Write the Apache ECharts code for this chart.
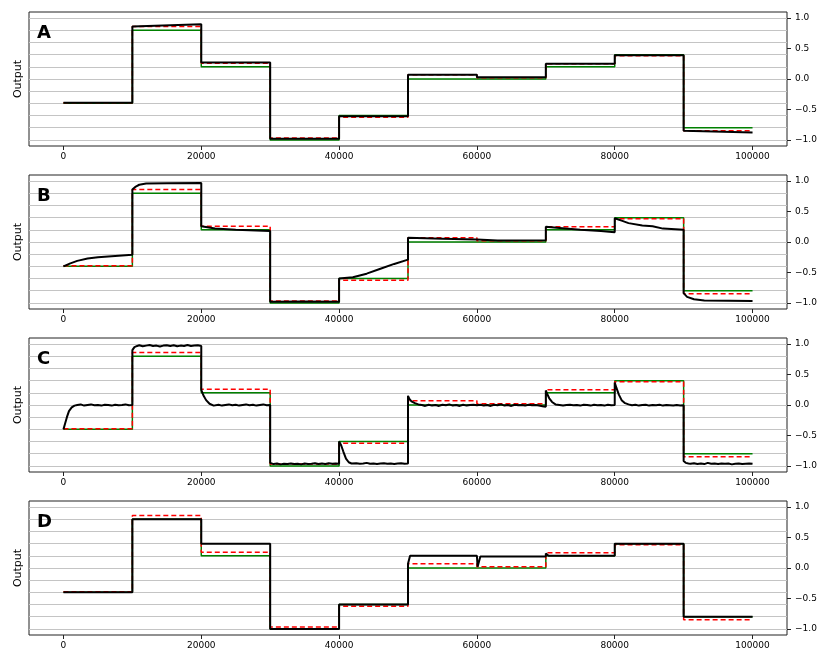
<!DOCTYPE html>
<html>
<head>
<meta charset="utf-8">
<script src="https://cdn.jsdelivr.net/npm/echarts@6/dist/echarts.min.js"></script>
<style>
  html, body { margin: 0; padding: 0; background: #fff; }
  #chart { width: 830px; height: 664px; }
</style>
</head>
<body>
<div id="chart"></div>
<script>
// step boundaries and levels (same target / reference for every panel)
var stepX = [0, 10000, 20000, 30000, 40000, 50000, 60000, 70000, 80000, 90000, 100000]
var greenLevels = [-0.4, 0.8, 0.2, -1.0, -0.6, 0.0, 0.0, 0.2, 0.4, -0.8]
var redLevels = [-0.39, 0.86, 0.26, -0.97, -0.63, 0.07, 0.02, 0.25, 0.38, -0.85]

var xTicks = [0, 20000, 40000, 60000, 80000, 100000]
var yTicks = [-1.0, -0.5, 0.0, 0.5, 1.0]
var gridLevels = [-1.0, -0.8, -0.6, -0.4, -0.2, 0.0, 0.2, 0.4, 0.6, 0.8, 1.0]
var panelNames = ['A', 'B', 'C', 'D']

// black output curves
var blackA = [[0, -0.39], [10000, -0.39], [10000, 0.86], [20000, 0.9], [20000, 0.27], [30000, 0.27],
  [30000, -0.98], [40000, -0.98], [40000, -0.61], [50000, -0.61], [50000, 0.07], [60000, 0.07],
  [60000, 0.03], [70000, 0.03], [70000, 0.25], [80000, 0.25], [80000, 0.39], [90000, 0.39],
  [90000, -0.85], [100000, -0.88]]

var blackB = [[0, -0.4], [1000, -0.35], [2000, -0.31], [3500, -0.27], [5000, -0.25], [7500, -0.23], [10000, -0.21],
  [10000, 0.86], [10500, 0.91], [11000, 0.94], [12000, 0.96], [15000, 0.965], [20000, 0.97],
  [20000, 0.26], [22000, 0.22], [25000, 0.2], [30000, 0.18],
  [30000, -0.98], [35000, -0.975], [40000, -0.98],
  [40000, -0.6], [42000, -0.58], [44000, -0.52], [46000, -0.44], [48000, -0.36], [50000, -0.29],
  [50000, 0.07], [55000, 0.055], [60000, 0.04], [63000, 0.025], [70000, 0.03],
  [70000, 0.25], [72000, 0.23], [75000, 0.2], [78000, 0.18], [80000, 0.16],
  [80000, 0.39], [81000, 0.35], [82000, 0.31], [84000, 0.27], [85500, 0.26], [87000, 0.22], [90000, 0.2],
  [90000, -0.84], [90500, -0.9], [91500, -0.94], [93000, -0.96], [100000, -0.97]]

var blackC = [[0, -0.4], [250, -0.3], [500, -0.2], [800, -0.1], [1200, -0.04], [1600, -0.01], [2000, 0.0],
  [2500, 0.01], [3000, -0.01], [3500, 0.0], [4000, 0.01], [4500, -0.005], [5000, 0.0], [5500, -0.01],
  [6000, 0.005], [6500, 0.0], [7000, -0.01], [7500, 0.005], [8000, -0.005], [8500, 0.0], [9000, 0.01],
  [9500, -0.005], [10000, 0.0],
  [10000, 0.9], [10300, 0.95], [10700, 0.97], [11000, 0.98], [11500, 0.965], [12000, 0.975], [12500, 0.985],
  [13000, 0.97], [13500, 0.975], [14000, 0.96], [14500, 0.975], [15000, 0.98], [15500, 0.97], [16000, 0.98],
  [16500, 0.965], [17000, 0.975], [17500, 0.97], [18000, 0.985], [18500, 0.97], [19000, 0.975], [19500, 0.98],
  [20000, 0.97],
  [20000, 0.25], [20300, 0.16], [20700, 0.08], [21200, 0.02], [21800, -0.01], [22500, 0.005], [23000, -0.01],
  [23500, 0.0], [24000, 0.01], [24500, -0.005], [25000, 0.005], [25500, -0.01], [26000, 0.0], [26500, 0.01],
  [27000, -0.005], [27500, 0.005], [28000, -0.01], [28500, 0.0], [29000, 0.01], [29500, -0.005], [30000, 0.0],
  [30000, -0.95], [30500, -0.97], [31000, -0.96], [31500, -0.975], [32000, -0.965], [32500, -0.97], [33000, -0.96],
  [33500, -0.97], [34000, -0.965], [34500, -0.975], [35000, -0.96], [35500, -0.97], [36000, -0.965], [36500, -0.955],
  [37000, -0.97], [37500, -0.96], [38000, -0.97], [38500, -0.955], [39000, -0.965], [39500, -0.96], [40000, -0.965],
  [40000, -0.6], [40300, -0.66], [40600, -0.76], [41000, -0.88], [41400, -0.94], [41800, -0.96], [42500, -0.955],
  [43000, -0.965], [43500, -0.96], [44000, -0.95], [44500, -0.965], [45000, -0.96], [45500, -0.97], [46000, -0.96],
  [46500, -0.955], [47000, -0.965], [47500, -0.96], [48000, -0.97], [48500, -0.96], [49000, -0.955], [49500, -0.965],
  [50000, -0.96],
  [50000, 0.15], [50200, 0.1], [50500, 0.06], [51000, 0.03], [51500, 0.01], [52000, 0.0], [52500, -0.015],
  [53000, 0.005], [53500, -0.01], [54000, 0.0], [54500, -0.015], [55000, 0.005], [55500, -0.005], [56000, 0.01],
  [56500, -0.01], [57000, 0.0], [57500, -0.015], [58000, 0.005], [58500, -0.01], [59000, 0.0], [59500, 0.005],
  [60000, -0.005], [60500, 0.005], [61000, -0.01], [61500, 0.0], [62000, -0.015], [62500, 0.005], [63000, -0.005],
  [63500, 0.01], [64000, -0.01], [64500, 0.0], [65000, -0.015], [65500, 0.005], [66000, -0.005], [66500, 0.0],
  [67000, -0.01], [67500, 0.005], [68000, -0.005], [68500, 0.0], [69000, -0.01], [69500, -0.02], [70000, -0.03],
  [70000, 0.24], [70200, 0.18], [70500, 0.11], [70900, 0.05], [71400, 0.01], [72000, 0.0], [72500, -0.01],
  [73000, 0.0], [73500, 0.005], [74000, -0.005], [74500, 0.0], [75000, -0.01], [75500, 0.005], [76000, 0.0],
  [76500, -0.01], [77000, 0.005], [77500, -0.005], [78000, 0.0], [78500, -0.01], [79000, 0.005], [79500, -0.005],
  [80000, 0.0],
  [80000, 0.37], [80250, 0.28], [80600, 0.17], [81000, 0.08], [81500, 0.03], [82000, 0.01], [82500, -0.005],
  [83000, 0.005], [83500, -0.01], [84000, 0.0], [84500, 0.005], [85000, -0.01], [85500, 0.0], [86000, -0.005],
  [86500, 0.005], [87000, -0.01], [87500, 0.0], [88000, -0.005], [88500, -0.01], [89000, 0.0], [89500, -0.01],
  [90000, -0.005],
  [90000, -0.92], [90300, -0.95], [90700, -0.96], [91000, -0.965], [91500, -0.955], [92000, -0.97], [92500, -0.96],
  [93000, -0.97], [93500, -0.95], [94000, -0.965], [94500, -0.96], [95000, -0.97], [95500, -0.96], [96000, -0.965],
  [96500, -0.96], [97000, -0.975], [97500, -0.965], [98000, -0.96], [98500, -0.97], [99000, -0.965], [99500, -0.96],
  [100000, -0.965]]

var blackD = [[0, -0.4], [10000, -0.4], [10000, 0.8], [20000, 0.8], [20000, 0.4], [30000, 0.4],
  [30000, -1.0], [40000, -1.0], [40000, -0.6], [50000, -0.6], [50000, 0.07], [50300, 0.2], [60000, 0.2],
  [60100, 0.02], [60500, 0.19], [70000, 0.19], [70000, 0.24], [70400, 0.2], [80000, 0.2],
  [80000, 0.4], [90000, 0.4], [90000, -0.8], [100000, -0.8]]

var blacks = [blackA, blackB, blackC, blackD]

function stepPoints(levels) {
  var pts = levels.map(function (v, i) { return [stepX[i], v] })
  pts.push([stepX[stepX.length - 1], levels[levels.length - 1]])
  return pts
}

var font = 'DejaVu Sans'
var gridTop = [12, 175, 338, 501]
var gridH = 134

var grids = [], xAxes = [], yAxes = [], series = [], graphics = []

panelNames.forEach(function (name, i) {
  grids.push({
    left: 29, top: gridTop[i], width: 758, height: gridH,
    show: true, borderColor: '#222', borderWidth: 1, backgroundColor: 'transparent'
  })
  xAxes.push({
    gridIndex: i, type: 'value', min: -5000, max: 105000,
    axisLine: { show: false, onZero: false },
    axisTick: { show: true, length: 4, customValues: xTicks, lineStyle: { color: '#222' } },
    axisLabel: {
      customValues: xTicks, margin: 6, fontSize: 9, color: '#000', fontFamily: font,
      formatter: function (v) { return String(v) }
    },
    splitLine: { show: false }
  })
  yAxes.push({
    gridIndex: i, type: 'value', position: 'right', min: -1.1, max: 1.1,
    axisLine: { show: false, onZero: false },
    axisTick: { show: true, length: 4, customValues: yTicks, lineStyle: { color: '#222' } },
    axisLabel: {
      customValues: yTicks, margin: 8, fontSize: 9, color: '#000', fontFamily: font,
      formatter: function (v) { return (v < 0 ? '\u2212' : '') + Math.abs(v).toFixed(1) }
    },
    splitLine: { show: false }
  })

  // horizontal grid lines
  series.push({
    type: 'line', xAxisIndex: i, yAxisIndex: i, z: 1, silent: true,
    data: stepPoints(greenLevels), symbol: 'none',
    lineStyle: { opacity: 0 },
    markLine: {
      silent: true, z: 1, symbol: ['none', 'none'], label: { show: false }, animation: false,
      lineStyle: { color: '#c4c4c4', width: 1, type: 'solid' },
      data: gridLevels.map(function (v) { return { yAxis: v } })
    }
  })
  series.push({
    name: 'target', type: 'line', step: 'end', xAxisIndex: i, yAxisIndex: i, z: 2,
    data: stepPoints(greenLevels), symbol: 'none',
    lineStyle: { color: '#008000', width: 1.5 }
  })
  series.push({
    name: 'reference', type: 'line', step: 'end', xAxisIndex: i, yAxisIndex: i, z: 3,
    data: stepPoints(redLevels), symbol: 'none',
    lineStyle: { color: '#ff0000', width: 1.5, type: [5, 3] }
  })
  series.push({
    name: 'output', type: 'line', xAxisIndex: i, yAxisIndex: i, z: 4,
    data: blacks[i], symbol: 'none',
    lineStyle: { color: '#000', width: 2 }
  })

  graphics.push({
    type: 'text', x: 37, y: gridTop[i] + 21, z: 10,
    style: { text: name, font: 'bold 18px ' + font, fill: '#000', verticalAlign: 'middle' }
  })
  graphics.push({
    type: 'text', x: 18, y: gridTop[i] + gridH / 2, rotation: Math.PI / 2, z: 10,
    style: { text: 'Output', font: '11px ' + font, fill: '#000', align: 'center', verticalAlign: 'middle' }
  })
})

var chart = echarts.init(document.getElementById('chart'))
chart.setOption({
  animation: false,
  backgroundColor: '#fff',
  grid: grids,
  xAxis: xAxes,
  yAxis: yAxes,
  series: series,
  graphic: graphics
})
</script>
</body>
</html>
